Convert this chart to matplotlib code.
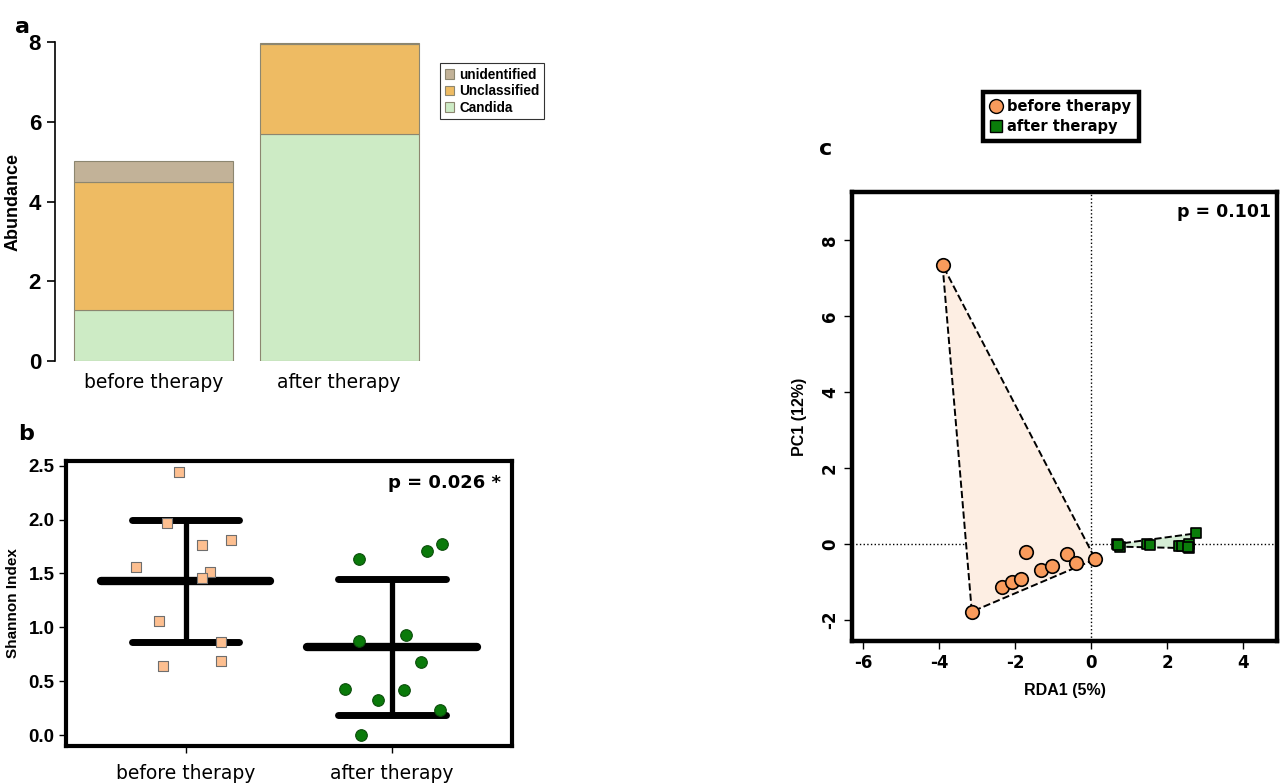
import numpy as np
import matplotlib
matplotlib.use("Agg")
import matplotlib.pyplot as plt
from matplotlib.lines import Line2D

plt.rcParams["axes.unicode_minus"] = False

# ---------------- data ----------------
groups = ["before therapy", "after therapy"]

# panel a -- stacked abundance
taxa = ["Candida", "Unclassified", "unidentified"]
taxa_colors = ["#cdebc5", "#eebb63", "#c2b298"]
abund_candida = [1.27, 5.69]
abund_unclassified = [3.22, 2.27]
abund_unidentified = [0.52, 0.02]

# panel b -- Shannon index per sample, with horizontal jitter
shannon_before = [2.44, 1.97, 1.56, 1.76, 1.81, 1.51, 1.46, 1.06, 0.86, 0.64, 0.69]
jitter_before = [-0.03, -0.09, -0.24, 0.08, 0.22, 0.12, 0.08, -0.13, 0.17, -0.11, 0.17]
shannon_after = [1.63, 1.71, 1.77, 0.87, 0.93, 0.68, 0.43, 0.325, 0.415, 0.235, 0.0]
jitter_after = [-0.16, 0.17, 0.24, -0.16, 0.07, 0.14, -0.23, -0.07, 0.06, 0.23, -0.15]
p_shannon = "p = 0.026 *"

# panel c -- ordination scores
rda_before = [-3.91, -3.14, -1.72, -2.34, -2.07, -1.85, -1.32, -1.04, -0.64, -0.39, 0.11]
pc_before = [7.34, -1.78, -0.20, -1.14, -0.99, -0.92, -0.69, -0.59, -0.27, -0.51, -0.40]
rda_after = [0.68, 0.76, 0.70, 1.46, 1.54, 2.32, 2.39, 2.57, 2.57, 2.55, 2.75]
pc_after = [0.00, -0.07, -0.02, 0.00, -0.02, -0.04, -0.05, 0.00, -0.11, -0.08, 0.28]
p_rda = "p = 0.101"

ARIAL = "Liberation Sans"
COND = ["DejaVu Sans Condensed", "DejaVu Sans"]


def hull(xs, ys):
    pts = sorted(set(zip(xs, ys)))
    def cross(o, a, b):
        return (a[0] - o[0]) * (b[1] - o[1]) - (a[1] - o[1]) * (b[0] - o[0])
    lower, upper = [], []
    for p in pts:
        while len(lower) >= 2 and cross(lower[-2], lower[-1], p) <= 0:
            lower.pop()
        lower.append(p)
    for p in reversed(pts):
        while len(upper) >= 2 and cross(upper[-2], upper[-1], p) <= 0:
            upper.pop()
        upper.append(p)
    return np.array(lower[:-1] + upper[:-1])


fig = plt.figure(figsize=(12.84, 7.83), dpi=100)

# ---------------- panel a ----------------
axa = fig.add_axes([0.0428, 0.539, 0.292, 0.407])
x = np.arange(len(groups))
bottom = np.zeros(len(groups))
for name, vals, col in zip(taxa, [abund_candida, abund_unclassified, abund_unidentified], taxa_colors):
    axa.bar(x, vals, width=0.856, bottom=bottom, color=col, edgecolor="#8c8670", lw=0.8, label=name)
    bottom += np.array(vals)
axa.set_xlim(-0.53, 1.488)
axa.set_ylim(0, 8)
for s in ["top", "right", "bottom"]:
    axa.spines[s].set_visible(False)
axa.spines["left"].set_linewidth(1.2)
axa.set_yticks([0, 2, 4, 6, 8])
axa.tick_params(axis="y", length=6, width=1.2, labelsize=16, pad=4)
for lab in axa.get_yticklabels():
    lab.set_fontfamily(ARIAL)
    lab.set_fontweight("bold")
axa.set_xticks(x)
axa.set_xticklabels(groups, fontsize=13.5, fontfamily=COND)
axa.tick_params(axis="x", length=0, pad=9)
axa.set_ylabel("Abundance", fontsize=13, fontweight="bold", fontfamily=ARIAL, labelpad=5)
h, l = axa.get_legend_handles_labels()
leg = axa.legend(h[::-1], l[::-1], loc="upper left", bbox_to_anchor=(1.01, 0.955),
                 fancybox=False, framealpha=1, edgecolor="#333333", handlelength=0.7,
                 handleheight=0.7, handletextpad=0.4, borderpad=0.3, labelspacing=0.2,
                 prop={"family": ARIAL, "weight": "bold", "size": 9.8})
leg.get_frame().set_linewidth(0.8)
fig.text(0.012, 0.978, "a", fontsize=16, fontweight="bold", va="top")

# ---------------- panel b ----------------
axb = fig.add_axes([0.0512, 0.0476, 0.3474, 0.364])
axb.scatter(1 + np.array(jitter_before), shannon_before, marker="s", s=42, c="#fdbf90",
            edgecolors="#6e6e6e", lw=0.8, zorder=3)
axb.scatter(2 + np.array(jitter_after), shannon_after, marker="o", s=70, c="#0a7a0a",
            edgecolors="#0b4d0b", lw=0.8, zorder=3)
for pos, vals in zip([1, 2], [shannon_before, shannon_after]):
    m = np.mean(vals)
    sd = np.std(vals, ddof=1)
    axb.plot([pos - 0.41, pos + 0.41], [m, m], color="black", lw=6, solid_capstyle="round", zorder=2)
    axb.plot([pos - 0.26, pos + 0.26], [m + sd, m + sd], color="black", lw=5, solid_capstyle="round", zorder=2)
    axb.plot([pos - 0.26, pos + 0.26], [m - sd, m - sd], color="black", lw=5, solid_capstyle="round", zorder=2)
    axb.plot([pos, pos], [m - sd, m + sd], color="black", lw=3.8, zorder=2)
axb.set_xlim(0.42, 2.58)
axb.set_ylim(-0.099, 2.546)
for s in axb.spines.values():
    s.set_linewidth(3)
axb.set_xticks([1, 2])
axb.set_xticklabels(groups, fontsize=13.5, fontfamily=COND)
axb.set_yticks([0, 0.5, 1.0, 1.5, 2.0, 2.5])
axb.set_yticklabels(["0.0", "0.5", "1.0", "1.5", "2.0", "2.5"])
axb.tick_params(axis="x", length=5, width=1, pad=8)
axb.tick_params(axis="y", length=5, width=1, labelsize=13.5, pad=3)
for lab in axb.get_yticklabels():
    lab.set_fontfamily(ARIAL)
    lab.set_fontweight("bold")
axb.set_ylabel("Shannon Index", fontsize=11, fontweight="bold", fontfamily=ARIAL, labelpad=6)
axb.text(0.975, 0.955, p_shannon, transform=axb.transAxes, ha="right", va="top",
         fontsize=13, fontweight="bold")
fig.text(0.014, 0.458, "b", fontsize=16, fontweight="bold", va="top")

# ---------------- panel c ----------------
axc = fig.add_axes([0.6636, 0.1814, 0.331, 0.5734])
hb = hull(rda_before, pc_before)
ha = hull(rda_after, pc_after)
axc.fill(hb[:, 0], hb[:, 1], facecolor="#fdeee3", edgecolor="black", ls="--", lw=1.4, zorder=1)
axc.fill(ha[:, 0], ha[:, 1], facecolor="#d5edd5", edgecolor="black", ls="--", lw=1.4, zorder=1)
axc.axvline(0, color="black", ls=":", lw=1, zorder=0)
axc.axhline(0, color="black", ls=":", lw=1, zorder=0)
axc.scatter(rda_before, pc_before, marker="o", s=95, c="#f99b5c", edgecolors="black", lw=1.2, zorder=3)
axc.scatter(rda_after, pc_after, marker="s", s=60, c="#0a7d0a", edgecolors="black", lw=1.2, zorder=3)
axc.set_xlim(-6.29, 4.89)
axc.set_ylim(-2.55, 9.26)
for s in axc.spines.values():
    s.set_linewidth(3.2)
axc.set_xticks([-6, -4, -2, 0, 2, 4])
axc.set_yticks([-2, 0, 2, 4, 6, 8])
axc.tick_params(axis="both", length=6, width=1, labelsize=12)
for lab in axc.get_xticklabels() + axc.get_yticklabels():
    lab.set_fontweight("bold")
for lab in axc.get_yticklabels():
    lab.set_rotation(90)
    lab.set_va("center")
axc.set_xlabel("RDA1 (5%)", fontsize=11.5, fontweight="bold", fontfamily=ARIAL, labelpad=8)
axc.set_ylabel("PC1 (12%)", fontsize=11.5, fontweight="bold", fontfamily=ARIAL, labelpad=10)
axc.text(0.985, 0.975, p_rda, transform=axc.transAxes, ha="right", va="top",
         fontsize=12.5, fontweight="bold")
handles = [Line2D([], [], marker="o", ls="none", ms=10, mfc="#f99b5c", mec="black", mew=1),
           Line2D([], [], marker="s", ls="none", ms=8, mfc="#0a7d0a", mec="black", mew=1)]
legc = fig.legend(handles, groups, loc="center", bbox_to_anchor=(0.826, 0.851),
                  fancybox=False, framealpha=1, edgecolor="black", handlelength=0.8,
                  handletextpad=0.4, borderpad=0.5, labelspacing=0.3,
                  prop={"weight": "bold", "size": 10.5})
legc.get_frame().set_linewidth(3.2)
fig.text(0.638, 0.822, "c", fontsize=16, fontweight="bold", va="top")

fig.savefig("out.png", dpi=100)
